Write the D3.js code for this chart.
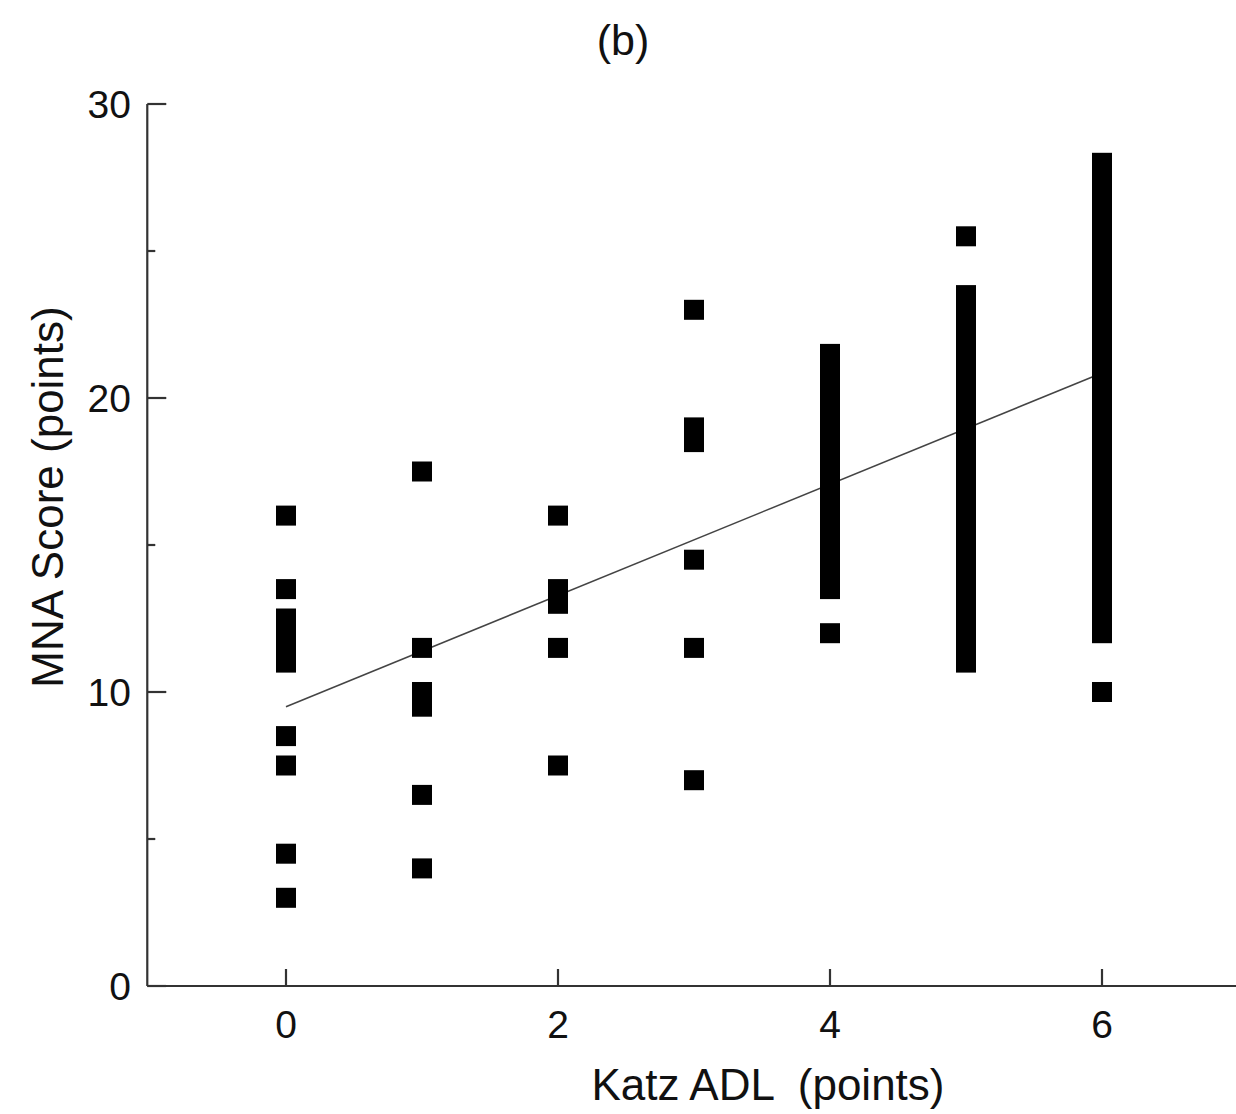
<!DOCTYPE html>
<html>
<head>
<meta charset="utf-8">
<script src="https://cdn.jsdelivr.net/npm/d3@7"></script>
<style>
  html, body { margin: 0; padding: 0; background: #fff; }
  svg { display: block; font-family: "Liberation Sans", Arial, sans-serif; }
</style>
</head>
<body>
<svg id="chart" width="1236" height="1114"></svg>
<script>
// ---- data ----
const katzLevels = [0, 1, 2, 3, 4, 5, 6];
const mnaAtKatz0 = [16, 13.5, 12.5, 12, 11.5, 11, 8.5, 7.5, 4.5, 3];
const mnaAtKatz1 = [17.5, 11.5, 10, 9.5, 6.5, 4];
const mnaAtKatz2 = [16, 13.5, 13, 11.5, 7.5];
const mnaAtKatz3 = [23, 19, 18.5, 14.5, 11.5, 7];
const mnaAtKatz4 = [21.5, 21, 20.5, 20, 19.5, 19, 18.5, 18, 17.5, 17, 16.5, 16, 15.5, 15, 14.5, 14, 13.5, 12];
const mnaAtKatz5 = [25.5, 23.5, 23, 22.5, 22, 21.5, 21, 20.5, 20, 19.5, 19, 18.5, 18, 17.5, 17, 16.5, 16, 15.5, 15, 14.5, 14, 13.5, 13, 12.5, 12, 11.5, 11];
const mnaAtKatz6 = [28, 27.5, 27, 26.5, 26, 25.5, 25, 24.5, 24, 23.5, 23, 22.5, 22, 21.5, 21, 20.5, 20, 19.5, 19, 18.5, 18, 17.5, 17, 16.5, 16, 15.5, 15, 14.5, 14, 13.5, 13, 12.5, 12, 10];
const fitX = [0, 6];
const fitY = [9.5, 20.85];
const xTicks = [0, 2, 4, 6];
const yTicks = [0, 10, 20, 30];
const yMinorTicks = [5, 15, 25];
const titleText = "(b)";
const xLabel = "Katz ADL  (points)";
const yLabel = "MNA Score (points)";

const columns = [mnaAtKatz0, mnaAtKatz1, mnaAtKatz2, mnaAtKatz3, mnaAtKatz4, mnaAtKatz5, mnaAtKatz6];
const points = [];
columns.forEach((vals, i) => vals.forEach(v => points.push({ x: katzLevels[i], y: v })));

// ---- layout ----
const svg = d3.select("#chart");
const x = d3.scaleLinear().domain([0, 6]).range([286, 1102]);
const y = d3.scaleLinear().domain([0, 30]).range([986, 104]);
const xAxisStart = x(-1.02);
const xAxisEnd = 1236;
const axisY = y(0);
const fontSize = 39;

// axes lines
const axes = svg.append("g").attr("stroke", "#333").attr("stroke-width", 2.2).attr("fill", "none");
axes.append("line").attr("x1", xAxisStart).attr("x2", xAxisEnd).attr("y1", axisY).attr("y2", axisY);
axes.append("line").attr("x1", xAxisStart).attr("x2", xAxisStart).attr("y1", y(30)).attr("y2", axisY);

// x ticks (inward)
axes.selectAll(".xt").data(xTicks).join("line")
  .attr("x1", d => x(d)).attr("x2", d => x(d))
  .attr("y1", axisY).attr("y2", axisY - 17);
// y ticks (inward)
axes.selectAll(".yt").data(yTicks).join("line")
  .attr("x1", xAxisStart).attr("x2", xAxisStart + 19)
  .attr("y1", d => y(d)).attr("y2", d => y(d));
axes.selectAll(".ym").data(yMinorTicks).join("line")
  .attr("x1", xAxisStart).attr("x2", xAxisStart + 8)
  .attr("y1", d => y(d)).attr("y2", d => y(d));

// tick labels
svg.append("g").selectAll("text").data(xTicks).join("text")
  .attr("x", d => x(d)).attr("y", 1038)
  .attr("text-anchor", "middle").attr("font-size", fontSize).attr("fill", "#111")
  .text(d => d3.format("d")(d));
svg.append("g").selectAll("text").data(yTicks).join("text")
  .attr("x", 131).attr("y", d => y(d) + 14)
  .attr("text-anchor", "end").attr("font-size", fontSize).attr("fill", "#111")
  .text(d => d3.format("d")(d));

// regression line
svg.append("line")
  .attr("x1", x(fitX[0])).attr("y1", y(fitY[0]))
  .attr("x2", x(fitX[1])).attr("y2", y(fitY[1]))
  .attr("stroke", "#444").attr("stroke-width", 1.5);

// points (square markers)
const s = 20;
svg.append("g").selectAll("rect").data(points).join("rect")
  .attr("x", d => x(d.x) - s / 2).attr("y", d => y(d.y) - s / 2)
  .attr("width", s).attr("height", s).attr("fill", "#000");

// titles
svg.append("text").attr("x", 623).attr("y", 55)
  .attr("text-anchor", "middle").attr("font-size", 43).attr("fill", "#111").text(titleText);
svg.append("text").attr("x", 768).attr("y", 1100)
  .attr("text-anchor", "middle").attr("font-size", 44).attr("fill", "#111")
  .attr("xml:space", "preserve").style("white-space", "pre").text(xLabel);
svg.append("text")
  .attr("transform", "translate(63,497) rotate(-90)")
  .attr("text-anchor", "middle").attr("font-size", 44).attr("fill", "#111").text(yLabel);
</script>
</body>
</html>
